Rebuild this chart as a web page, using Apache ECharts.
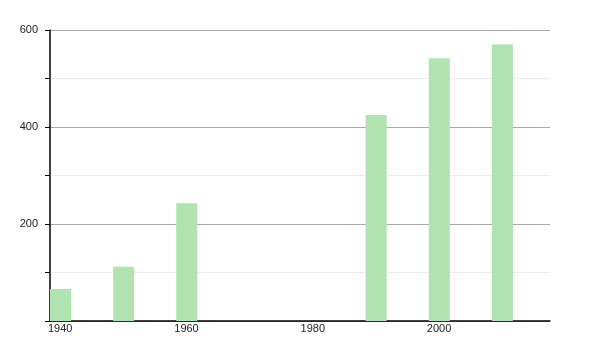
<!DOCTYPE html>
<html>
<head>
<meta charset="utf-8">
<script src="https://cdn.jsdelivr.net/npm/echarts@6/dist/echarts.min.js"></script>
<style>html,body{margin:0;padding:0;background:#fff}#c{width:600px;height:350px}</style>
</head>
<body>
<div id="c"></div>
<script>
var years = [1940, 1950, 1960, 1990, 2000, 2010];
var values = [66, 112, 243, 425, 542, 570];
var xTicks = [1940, 1960, 1980, 2000];
var yTicks = [200, 400, 600];

var chart = echarts.init(document.getElementById('c'), null, {renderer: 'canvas'});
var barPx = 21;
chart.setOption({
  animation: false,
  grid: {left: 50, top: 30, width: 500, height: 291, containLabel: false},
  xAxis: {
    type: 'value', min: 1940, max: 2019.2, interval: 20,
    axisLine: {show: true, lineStyle: {color: '#000', width: 1.5}},
    axisTick: {show: false},
    splitLine: {show: false},
    axisLabel: {
      color: '#222', fontSize: 11, fontFamily: 'Liberation Sans', align: 'left', margin: 2,
      padding: [0, 0, 0, -2], showMaxLabel: false,
      formatter: function (v) { return xTicks.indexOf(v) >= 0 ? String(v) : ''; }
    }
  },
  yAxis: {
    type: 'value', min: 0, max: 600, interval: 100,
    axisLine: {show: true, lineStyle: {color: '#000', width: 1.5}},
    axisTick: {show: true, length: 5, lineStyle: {color: '#000'}},
    splitLine: {show: true, lineStyle: {color: ['#aaaaaa', '#ececec'], width: 1}},
    axisLabel: {
      color: '#222', fontSize: 11, fontFamily: 'Liberation Sans', margin: 12,
      formatter: function (v) { return yTicks.indexOf(v) >= 0 ? String(v) : ''; }
    }
  },
  series: [{
    type: 'custom',
    data: years.map(function (y, i) { return [y, values[i]]; }),
    renderItem: function (params, api) {
      var p0 = api.coord([api.value(0), 0]);
      var p1 = api.coord([api.value(0), api.value(1)]);
      return {
        type: 'rect',
        shape: {x: p0[0], y: p1[1], width: barPx, height: p0[1] - p1[1]},
        style: {fill: '#b0e3b0'}
      };
    },
    z: 3
  }]
});
</script>
</body>
</html>
